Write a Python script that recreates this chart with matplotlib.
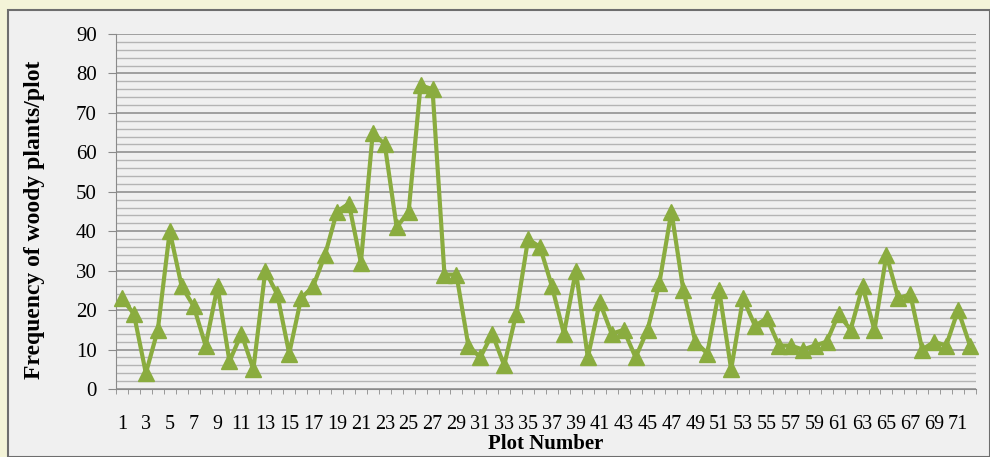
import numpy as np
import matplotlib.pyplot as plt
from matplotlib.patches import Rectangle
from matplotlib.ticker import MultipleLocator, FixedLocator

# nombre de plantes ligneuses par placette
plots = list(range(1, 73))
freq = [23, 19, 4, 15, 40, 26, 21, 11, 26, 7,
        14, 5, 30, 24, 9, 23, 26, 34, 45, 47,
        32, 65, 62, 41, 45, 77, 76, 29, 29, 11,
        8, 14, 6, 19, 38, 36, 26, 14, 30, 8,
        22, 14, 15, 8, 15, 27, 45, 25, 12, 9,
        25, 5, 23, 16, 18, 11, 11, 10, 11, 12,
        19, 15, 26, 15, 34, 23, 24, 10, 12, 11,
        20, 11]
xlabels = [str(p) for p in plots[::2]]

plt.rcParams['font.family'] = ['Liberation Serif', 'DejaVu Serif']

W, H = 990, 457
fig = plt.figure(figsize=(W / 100, H / 100), dpi=100)
fig.patch.set_facecolor('#f4f4d8')
# panneau gris
fig.patches.append(Rectangle((8 / W, 0), 1 - 8 / W, 1 - 10 / H, transform=fig.transFigure,
                             facecolor='#f0f0f0', edgecolor='#6e6e6e', linewidth=1.5, zorder=-5))

ax = fig.add_axes([116 / W, 1 - 389 / H, (976 - 116) / W, (389 - 34) / H])
ax.set_facecolor('#f0f0f0')

ax.plot(plots, freq, color='#8aac3f', linewidth=3, marker='^', markersize=12,
        markeredgecolor='#8aac3f', zorder=3, clip_on=False)

ax.set_xlim(0.5, 72.5)
ax.set_ylim(0, 90)

ax.yaxis.set_major_locator(MultipleLocator(10))
ax.yaxis.set_minor_locator(MultipleLocator(2))
ax.grid(which='major', axis='y', color='#8a8a8a', linewidth=1.1)
ax.grid(which='minor', axis='y', color='#b4b4b4', linewidth=1.0)
ax.set_axisbelow(True)

ax.xaxis.set_major_locator(FixedLocator(plots[::2]))
ax.set_xticklabels(xlabels)
ax.xaxis.set_minor_locator(FixedLocator(np.arange(0.5, 73, 1)))
ax.tick_params(axis='x', which='major', length=0, pad=19, labelsize=14.5)
ax.tick_params(axis='x', which='minor', length=3.6, color='#8a8a8a', direction='out')
ax.tick_params(axis='y', which='major', length=5.8, color='#8a8a8a', labelsize=15, pad=8)
ax.tick_params(axis='y', which='minor', length=0)

for s in ['top', 'right']:
    ax.spines[s].set_visible(False)
for s in ['left', 'bottom']:
    ax.spines[s].set_color('#8a8a8a')

ax.set_ylabel('Frequency of woody plants/plot', fontsize=17, fontweight='bold')
ax.yaxis.set_label_coords(-0.0826, 0.476)
ax.set_xlabel('Plot Number', fontsize=15, fontweight='bold')
ax.xaxis.set_label_coords(0.5, -0.127)

fig.savefig('out.png', dpi=100, facecolor=fig.get_facecolor())
